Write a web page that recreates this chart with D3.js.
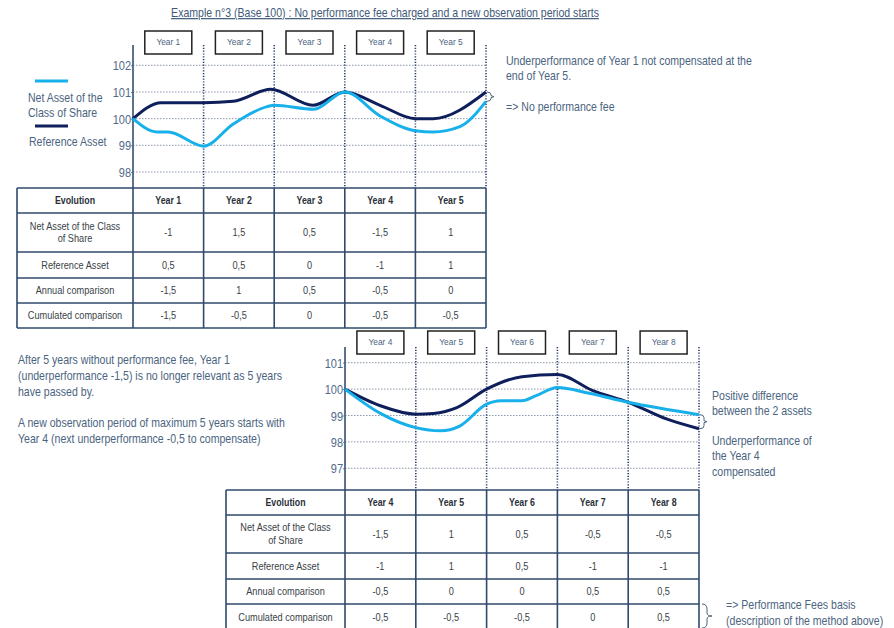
<!DOCTYPE html>
<html>
<head>
<meta charset="utf-8">
<script src="https://cdn.jsdelivr.net/npm/d3@7"></script>
<style>
  body { margin: 0; background: #fff; }
  svg { display: block; font-family: "Liberation Sans", Arial, sans-serif; }
  .note { fill: #4b6480; font-size: 12px; }
  .cell { fill: #3a3f48; font-size: 10px; }
  .head { fill: #2a2f38; font-size: 10px; font-weight: bold; }
</style>
</head>
<body>
<svg id="chart" width="894" height="628"></svg>
<script>
// top example, years 1 to 5 (x in years since start, y in base 100)
const topYears = ['Year 1', 'Year 2', 'Year 3', 'Year 4', 'Year 5'];
const topNet = [[0, 100], [0.34, 99.5], [0.5, 99.5], [1, 98.97], [1.42, 99.8], [1.9, 100.45], [2, 100.5],
  [2.56, 100.35], [3, 101], [3.5, 100.1], [4, 99.55], [4.25, 99.5], [4.63, 99.7], [5, 100.65]];
const topRef = [[0, 100], [0.4, 100.6], [1, 100.6], [1.42, 100.65], [1.95, 101.1], [2.55, 100.5],
  [3, 101], [3.5, 100.5], [4, 100], [4.25, 100], [5, 101]];
const topTicks = [98, 99, 100, 101, 102];
const topRows = [
  ['Net Asset of the Class|of Share', '-1', '1,5', '0,5', '-1,5', '1'],
  ['Reference Asset', '0,5', '0,5', '0', '-1', '1'],
  ['Annual comparison', '-1,5', '1', '0,5', '-0,5', '0'],
  ['Cumulated comparison', '-1,5', '-0,5', '0', '-0,5', '-0,5']
];

// bottom example, years 4 to 8
const botYears = ['Year 4', 'Year 5', 'Year 6', 'Year 7', 'Year 8'];
const botNet = [[0, 100], [0.5, 99.08], [1, 98.54], [1.35, 98.42], [1.62, 98.6], [2, 99.43], [2.2, 99.56],
  [2.5, 99.56], [2.7, 99.75], [3, 100.06], [3.45, 99.84], [4, 99.5], [5, 99.03]];
const botRef = [[0, 100], [0.5, 99.37], [1, 99.05], [1.25, 99.08], [1.58, 99.3], [2, 100], [2.5, 100.47],
  [3, 100.55], [3.5, 99.94], [4, 99.5], [4.55, 98.86], [5, 98.5]];
const botTicks = [97, 98, 99, 100, 101];
const botRows = [
  ['Net Asset of the Class|of Share', '-1,5', '1', '0,5', '-0,5', '-0,5'],
  ['Reference Asset', '-1', '1', '0,5', '-1', '-1'],
  ['Annual comparison', '-0,5', '0', '0', '0,5', '0,5'],
  ['Cumulated comparison', '-0,5', '-0,5', '-0,5', '0', '0,5']
];

const lightBlue = '#18b0ea';
const navy = '#0f1f5c';
const narrow = 0.88; // the original uses a condensed face

const svg = d3.select('#chart');
svg.append('rect').attr('width', 894).attr('height', 628).attr('fill', '#fff');

// title
svg.append('text')
  .attr('transform', `translate(385,17) scale(${narrow},1)`)
  .attr('text-anchor', 'middle')
  .attr('fill', '#3f5a78')
  .style('font-size', '12px')
  .style('text-decoration', 'underline')
  .text('Example  n°3 (Base 100) : No performance fee charged and a new observation period starts');

drawExample({
  x0: 133, x1: 486, yTop: 45, yBottom: 188,
  domain: [98, 102], range: [172, 65.3], ticks: topTicks,
  boxY: 31, years: topYears, net: topNet, ref: topRef,
  tableLeft: 17, tableRows: [188, 213, 252, 278, 303, 328], rows: topRows,
  brace: [486, 100.65, 101]
});

drawExample({
  x0: 345, x1: 699, yTop: 347, yBottom: 490,
  domain: [97, 101], range: [468.3, 362.7], ticks: botTicks,
  boxY: 331, years: botYears, net: botNet, ref: botRef,
  tableLeft: 226, tableRows: [490, 515, 553, 579, 604, 630], rows: botRows,
  brace: [699, 98.5, 99.03]
});

// legend
svg.append('line').attr('x1', 35).attr('x2', 68).attr('y1', 81).attr('y2', 81)
  .attr('stroke', lightBlue).attr('stroke-width', 3);
svg.append('line').attr('x1', 35).attr('x2', 68).attr('y1', 126).attr('y2', 126)
  .attr('stroke', navy).attr('stroke-width', 3);
addText(28, 102, ['Net Asset of the', 'Class of Share'], 15);
addText(29, 146, ['Reference Asset'], 15);

// notes
addText(506, 65, ['Underperformance of Year 1 not compensated  at the', 'end of Year 5.'], 15);
addText(506, 111, ['=> No performance fee'], 15);
addText(18, 364, ['After 5 years without performance fee, Year 1',
  '(underperformance -1,5) is no longer relevant as 5 years', 'have passed by.'], 16);
addText(18, 427, ['A new observation  period of maximum  5 years starts with',
  'Year 4 (next underperformance -0,5 to compensate)'], 16);
addText(712, 400, ['Positive difference', 'between the 2 assets'], 15);
addText(712, 445, ['Underperformance of', 'the Year 4', 'compensated'], 15.5);
addText(726, 609, ['=> Performance Fees basis', '(description of the method above)'], 16);

// brace next to the last table row
svg.append('path')
  .attr('d', 'M702,604 Q707,604 707,609 L707,613 Q707,616 712,616 Q707,616 707,619 L707,623 Q707,628 702,628')
  .attr('fill', 'none').attr('stroke', '#4b6480').attr('stroke-width', 1);

function addText(x, y, lines, lh) {
  const t = svg.append('text').attr('class', 'note')
    .attr('transform', `translate(${x},${y}) scale(${narrow},1)`);
  lines.forEach((s, i) => {
    t.append('tspan').attr('x', 0).attr('dy', i ? lh : 0).text(s);
  });
}

function drawExample(c) {
  const g = svg.append('g');
  const x = d3.scaleLinear().domain([0, 5]).range([c.x0, c.x1]);
  const y = d3.scaleLinear().domain(c.domain).range(c.range);

  // dotted grid
  g.selectAll('.grid').data(c.ticks).join('line')
    .attr('x1', c.x0).attr('x2', c.x1)
    .attr('y1', d => y(d)).attr('y2', d => y(d))
    .attr('stroke', '#8c98aa').attr('stroke-width', 1)
    .attr('stroke-dasharray', '1.5,1.5');

  // year separators
  g.selectAll('.sep').data(d3.range(1, 6)).join('line')
    .attr('x1', d => x(d)).attr('x2', d => x(d))
    .attr('y1', c.yTop).attr('y2', c.yBottom)
    .attr('stroke', '#2c3f6e').attr('stroke-width', 1.6)
    .attr('stroke-dasharray', '1.2,1.6');

  // y axis
  const axis = g.append('g')
    .attr('transform', `translate(${c.x0},0)`)
    .call(d3.axisLeft(y).tickValues(c.ticks).tickSize(2).tickFormat(d3.format('d')));
  axis.select('.domain').remove();
  axis.selectAll('line').attr('stroke', '#6d7f96');
  axis.selectAll('text').attr('fill', '#4f6989')
    .attr('font-size', null).style('font-size', '12.5px')
    .attr('x', null).attr('dy', null)
    .attr('transform', 'translate(-2,4.5) scale(0.88,1)');
  g.append('line').attr('x1', c.x0).attr('x2', c.x0).attr('y1', c.yTop).attr('y2', c.yBottom)
    .attr('stroke', '#4e627c').attr('stroke-width', 1.8);

  // year boxes
  const box = g.selectAll('.box').data(c.years).join('g')
    .attr('transform', (d, i) => `translate(${x(i + 0.5)},${c.boxY})`);
  box.append('rect').attr('x', -23.5).attr('y', 0).attr('width', 47).attr('height', 23)
    .attr('fill', '#fff').attr('stroke', '#222').attr('stroke-width', 1.5);
  box.append('text').attr('transform', `translate(0,14) scale(${narrow},1)`).attr('text-anchor', 'middle')
    .attr('fill', '#4b6480').style('font-size', '9.5px').text(d => d);

  // curves
  const line = d3.line().x(d => x(d[0])).y(d => y(d[1])).curve(d3.curveMonotoneX);
  g.append('path').datum(c.ref).attr('d', line)
    .attr('fill', 'none').attr('stroke', navy).attr('stroke-width', 3);
  g.append('path').datum(c.net).attr('d', line)
    .attr('fill', 'none').attr('stroke', lightBlue).attr('stroke-width', 3);

  // small brace at the end of the curves
  const bx = x(5) + 1, ya = y(c.brace[2]), yb = y(c.brace[1]), ym = (ya + yb) / 2;
  g.append('path')
    .attr('d', `M${bx},${ya} Q${bx + 4},${ya} ${bx + 4},${ya + 3} L${bx + 4},${ym - 1} L${bx + 7},${ym} L${bx + 4},${ym + 1} L${bx + 4},${yb - 3} Q${bx + 4},${yb} ${bx},${yb}`)
    .attr('fill', 'none').attr('stroke', '#4b6480').attr('stroke-width', 1);

  // table
  const cols = [c.tableLeft].concat(d3.range(0, 6).map(d => x(d)));
  const r = c.tableRows;
  const t = svg.append('g');
  const stroke = '#2f4a6c';
  r.forEach(yy => t.append('line').attr('x1', cols[0]).attr('x2', cols[6]).attr('y1', yy).attr('y2', yy)
    .attr('stroke', stroke).attr('stroke-width', 1.6));
  cols.forEach(xx => t.append('line').attr('x1', xx).attr('x2', xx).attr('y1', r[0]).attr('y2', r[r.length - 1])
    .attr('stroke', stroke).attr('stroke-width', 1.6));

  const head = ['Evolution'].concat(c.years);
  head.forEach((h, i) => {
    t.append('text').attr('class', 'head')
      .attr('transform', `translate(${(cols[i] + cols[i + 1]) / 2},${(r[0] + r[1]) / 2 + 3.5}) scale(${narrow},1)`)
      .attr('text-anchor', 'middle').text(h);
  });
  c.rows.forEach((row, j) => {
    const mid = (r[j + 1] + r[j + 2]) / 2;
    row.forEach((v, i) => {
      const parts = v.split('|');
      const tx = t.append('text').attr('class', 'cell')
        .attr('transform', `translate(${(cols[i] + cols[i + 1]) / 2},${mid + 3.5 - (parts.length - 1) * 6.5}) scale(0.92,1)`)
        .attr('text-anchor', 'middle');
      parts.forEach((p, k) => tx.append('tspan')
        .attr('x', 0).attr('dy', k ? 13 : 0).text(p));
    });
  });
}
</script>
</body>
</html>
